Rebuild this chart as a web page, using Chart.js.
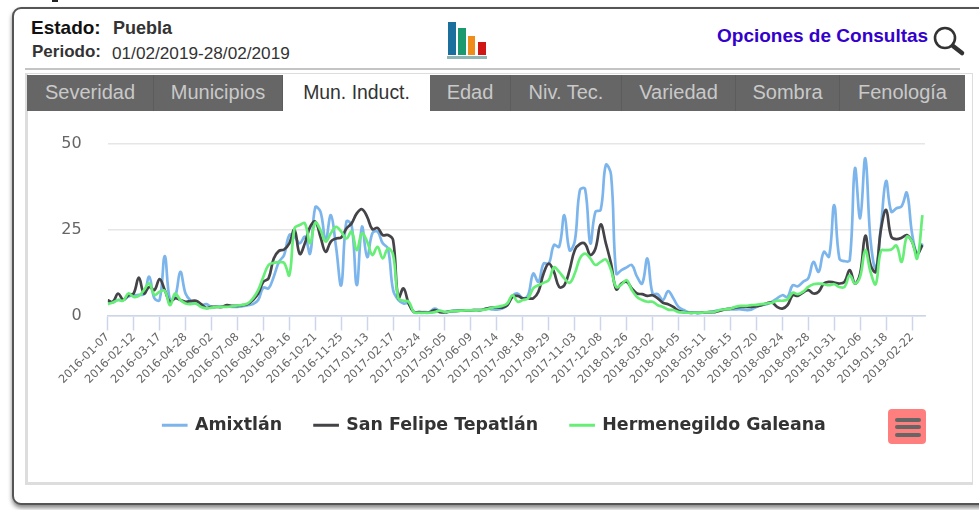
<!DOCTYPE html>
<html>
<head>
<meta charset="utf-8">
<title>Mun. Induct.</title>
<script src="https://cdn.jsdelivr.net/npm/chart.js@4"></script>
<style>
html,body{margin:0;padding:0;background:#fff;width:979px;height:510px;overflow:hidden;font-family:"Liberation Sans",sans-serif;}
body{filter:blur(.45px);}
.abs{position:absolute;white-space:nowrap;}
#card{position:absolute;left:12px;top:7px;width:1000px;height:494px;border:2px solid #555;border-radius:9px;box-shadow:0 3px 4px #888;background:#fff;}
#rule{position:absolute;left:25px;top:68px;width:935px;height:2px;background:#c4c4c4;}
#panel{position:absolute;left:25px;top:73px;width:944px;height:408px;border:1px solid #ddd;border-left:3px solid #ddd;border-bottom:3px solid #ddd;}
#tabs div{position:absolute;top:75px;height:36px;line-height:35px;text-align:center;background:#666;color:#c9c9c9;font-size:20px;border-right:1px solid #5c5c5c;box-sizing:border-box;}
#tabs div.on{background:#fff;color:#333;font-size:19.4px;border:0;}
#chart{position:absolute;left:27px;top:108px;}
#menu{position:absolute;left:888px;top:409px;width:38px;height:35px;background:#ff7f7f;border-radius:4px;}
#menu i{position:absolute;left:7px;width:26px;height:4px;background:#666;border-radius:2px;}
</style>
</head>
<body>
<div class="abs" style="left:52px;top:0;width:6px;height:2px;background:#222"></div>
<div id="card"></div>
<div class="abs" style="left:31px;top:17px;font-size:19px;font-weight:bold;color:#111">Estado:</div>
<div class="abs" style="left:113px;top:18px;font-size:18px;font-weight:bold;color:#333">Puebla</div>
<div class="abs" style="left:32px;top:42px;font-size:17px;font-weight:bold;color:#333">Periodo:</div>
<div class="abs" style="left:112px;top:43px;font-size:17.2px;color:#333">01/02/2019-28/02/2019</div>
<svg class="abs" style="left:440px;top:16px" width="54" height="46">
  <rect x="8" y="6" width="8" height="33" fill="#1a6f9c"/>
  <rect x="18" y="12" width="8" height="27" fill="#1a9a6e"/>
  <rect x="28" y="20" width="7" height="19" fill="#f08c1a"/>
  <rect x="38" y="26" width="8" height="13" fill="#d01515"/>
  <rect x="7" y="40" width="40" height="3" fill="#8fb5b5"/>
</svg>
<div class="abs" style="left:717px;top:25px;font-size:19px;font-weight:bold;color:#3300cc">Opciones de Consultas</div>
<svg class="abs" style="left:930px;top:22px" width="36" height="36">
  <circle cx="15" cy="16" r="10" fill="none" stroke="#333" stroke-width="2.6"/>
  <line x1="23" y1="24" x2="32" y2="31" stroke="#333" stroke-width="4.5" stroke-linecap="round"/>
</svg>
<div id="rule"></div>
<div id="panel"></div>
<div id="tabs">
  <div style="left:27px;width:127px">Severidad</div>
  <div style="left:154px;width:129px">Municipios</div>
  <div class="on" style="left:283px;width:147px">Mun. Induct.</div>
  <div style="left:430px;width:81px">Edad</div>
  <div style="left:511px;width:111px">Niv. Tec.</div>
  <div style="left:622px;width:114px">Variedad</div>
  <div style="left:736px;width:104px">Sombra</div>
  <div style="left:840px;width:125px;border-right:0">Fenología</div>
</div>
<canvas id="chart" width="935" height="336"></canvas>
<div id="menu"><i style="top:9px"></i><i style="top:16px"></i><i style="top:24px"></i></div>
<script>
const tickLabels = ['2016-01-07','2016-02-12','2016-03-17','2016-04-28','2016-06-02','2016-07-08','2016-08-12','2016-09-16',
    '2016-10-21','2016-11-25','2017-01-13','2017-02-17','2017-03-24','2017-05-05','2017-06-09','2017-07-14',
    '2017-08-18','2017-09-29','2017-11-03','2017-12-08','2018-01-26','2018-03-02','2018-04-05','2018-05-11',
    '2018-06-15','2018-07-20','2018-08-24','2018-09-28','2018-10-31','2018-12-06','2019-01-18','2019-02-22'];
const amixtlan = [
    4,3.8,4.5,4.5,5.5,5.8,6,6.2,11.3,5,
    4.5,17.3,4.5,5.5,12.7,6.4,4.3,3.5,3,3.3,
    2.5,2.6,2.6,2.6,2.5,2.5,2.7,3,3.3,4.5,
    8.1,7.9,11.3,15.6,17.6,23.4,22.9,21,22.9,18,
    31.5,30.2,22,29.2,20,8.8,27.3,26.3,8.8,25.8,
    17,23.9,24.4,21,19.5,7.4,4.5,3.5,3.5,1,
    1,1,1,2,1.3,1,1.3,1.4,1.4,1.5,
    1.5,1.6,1.6,2,1.8,1.7,2,3,5.7,6.4,
    5,5.9,12.2,9.8,15.1,15.1,20.5,20,29.2,19,
    21.5,36.5,36.8,21,30.2,30.7,43.8,40.9,12.2,13.2,
    14,14.7,11.3,9.3,16.6,6.4,6.2,4.5,7.1,5,
    2.5,1.6,.9,.8,.7,.9,1,1.3,1.6,1.7,
    1.8,1.8,1.8,1.6,1.7,2.5,3,3.3,4,5,
    5.9,5.4,8.8,8.5,9.8,10.8,15.6,12.7,18.5,17.1,
    32.1,16.6,15.8,16.1,42.8,28.3,45.7,22,13.7,25.8,
    39.1,30.2,31.2,31.8,35.7,23.9,18,21];
const sanFelipe = [
    4.4,4,6.4,4.6,5.9,6.4,11,6.4,8.3,7.4,
    10.6,7.4,4,5,4.5,4,4.2,4.3,3.3,2.2,
    2.5,2.5,2.5,3,2.8,2.8,3,3.3,4.5,6.4,
    9.8,10.8,16.6,18.8,19.2,21,24.9,17.9,21,25.8,
    27.3,22.9,18.5,21.5,22.4,22.7,25.3,26.8,29.7,30.9,
    28.7,25.1,25.5,23.4,23.4,21.9,5,7.9,3.5,1,
    1,.9,.9,1.6,1,.9,1.2,1.3,1.4,1.5,
    1.5,1.6,1.6,2,2.3,2.3,2.3,3,5.4,5.7,
    5,5,5,6.9,12.2,15.1,12.7,8.3,8.8,13.2,
    19,20.8,20.8,17.6,19.5,26.5,21,15.1,7.6,9.3,
    9.8,7.9,6.4,6.2,5.7,5.9,5,3.7,3.3,2.5,
    1.4,1,.8,.8,.8,.9,1,1,1.4,1.8,
    2,2.3,2.5,2.5,2.5,2.7,3,3.5,3.8,2.5,
    2,3,5.9,5.7,6.7,7.4,6.4,6.9,9.3,9.8,
    9.6,9.3,9.8,13.2,9.3,12.2,23.2,14.7,12.7,24.9,
    30.7,22.9,22.2,22.6,23.4,21.5,17.9,20.5];
const hermenegildo = [
    3.3,3.8,4.5,4.3,6.4,5.4,5.7,7.4,9.3,6,
    6.9,7.2,3,6.4,4.5,3.5,3.3,3.5,2.5,2.1,
    2.3,2.5,2.5,2.5,2.7,2.9,3.1,3.5,5,7.4,
    11.3,14.7,15.3,15.5,15.3,11.7,25.3,26.3,26.8,21,
    27,24.9,21.5,23.9,25.8,24.4,22.4,24.4,19,23.9,
    21.5,17.6,20,16.6,19.5,17.6,5,4.3,4,1,
    .8,.8,.8,1,1.4,1,1.2,1.3,1.4,1.5,
    1.5,1.5,1.6,1.8,2.2,2.5,2.8,3.5,5.9,4,
    4.5,5,7.9,8.8,9.5,10.3,14,12.7,10.8,9.5,
    12.2,16.6,18,16.6,14.7,15.6,16.3,13.2,8.3,9,
    10.3,7.4,5.4,4.5,4,4,3,2.5,1.7,1.6,
    1,.9,.8,.8,.8,.9,1,1.1,1.6,1.8,
    2,2.5,2.8,2.8,3,3.1,3.3,3.5,3.7,4.3,
    4.3,4.7,6.6,6.2,6.9,8.3,9.1,9.3,9.1,8.8,
    9.1,8.3,8.3,11.7,9.3,11.3,19,12.7,9.1,18.8,
    19,19.2,20.3,15.6,22.9,21.5,16.6,29.2];

const tickEvery = 5;
const font = 'DejaVu Sans';

function series(label, values, color, order){
    return {
        label: label,
        data: values.map((v,i)=>({x:i, y:v})),
        borderColor: color,
        backgroundColor: color,
        borderWidth: 2.7,
        tension: 0.4,
        pointRadius: 0,
        order: order
    };
}

// the legend in the original is centred on the whole card, not on the plot
const shiftLegend = {
    id: 'shiftLegend',
    afterLayout: (chart)=>{
        chart.legend.left += 18.5;
        chart.legend.right += 18.5;
    }
};

new Chart(document.querySelector('#chart'), {
    type: 'line',
    plugins: [shiftLegend],
    data: {
        datasets: [
            series('Amixtlán', amixtlan, '#7cb5ec', 3),
            series('San Felipe Tepatlán', sanFelipe, '#434348', 2),
            series('Hermenegildo Galeana', hermenegildo, '#66ee77', 1)
        ]
    },
    options: {
        responsive: false,
        animation: false,
        layout: { padding: { right: 37 } },
        scales: {
            x: {
                type: 'linear',
                min: 0,
                max: 157.5,
                afterFit: (s)=>{ s.height = 68.6; },
                border: { color: '#ccd6eb', width: 1.5 },
                grid: { drawOnChartArea: false, tickLength: 15, tickColor: '#ccd6eb', tickWidth: 1.5 },
                ticks: {
                    stepSize: tickEvery,
                    includeBounds: false,
                    autoSkip: false,
                    maxRotation: 45,
                    minRotation: 45,
                    padding: 0,
                    color: '#666',
                    font: { family: font, size: 11.3 },
                    callback: (v)=> tickLabels[v/tickEvery]
                }
            },
            y: {
                min: 0,
                max: 50,
                afterFit: (s)=>{ s.width = 80.7; },
                border: { display: false },
                grid: { color: '#e6e6e6', lineWidth: 1.5, drawTicks: false },
                ticks: {
                    stepSize: 25,
                    padding: 26,
                    color: '#666',
                    font: { family: font, size: 16 }
                }
            }
        },
        plugins: {
            tooltip: { enabled: false },
            legend: {
                position: 'bottom',
                labels: {
                    boxWidth: 23,
                    boxHeight: 0.3,
                    padding: 32.5,
                    color: '#333',
                    font: { family: font, size: 17.4, weight: 'bold' },
                    sort: (a,b)=> a.datasetIndex - b.datasetIndex
                }
            }
        }
    }
});
</script>
</body>
</html>
